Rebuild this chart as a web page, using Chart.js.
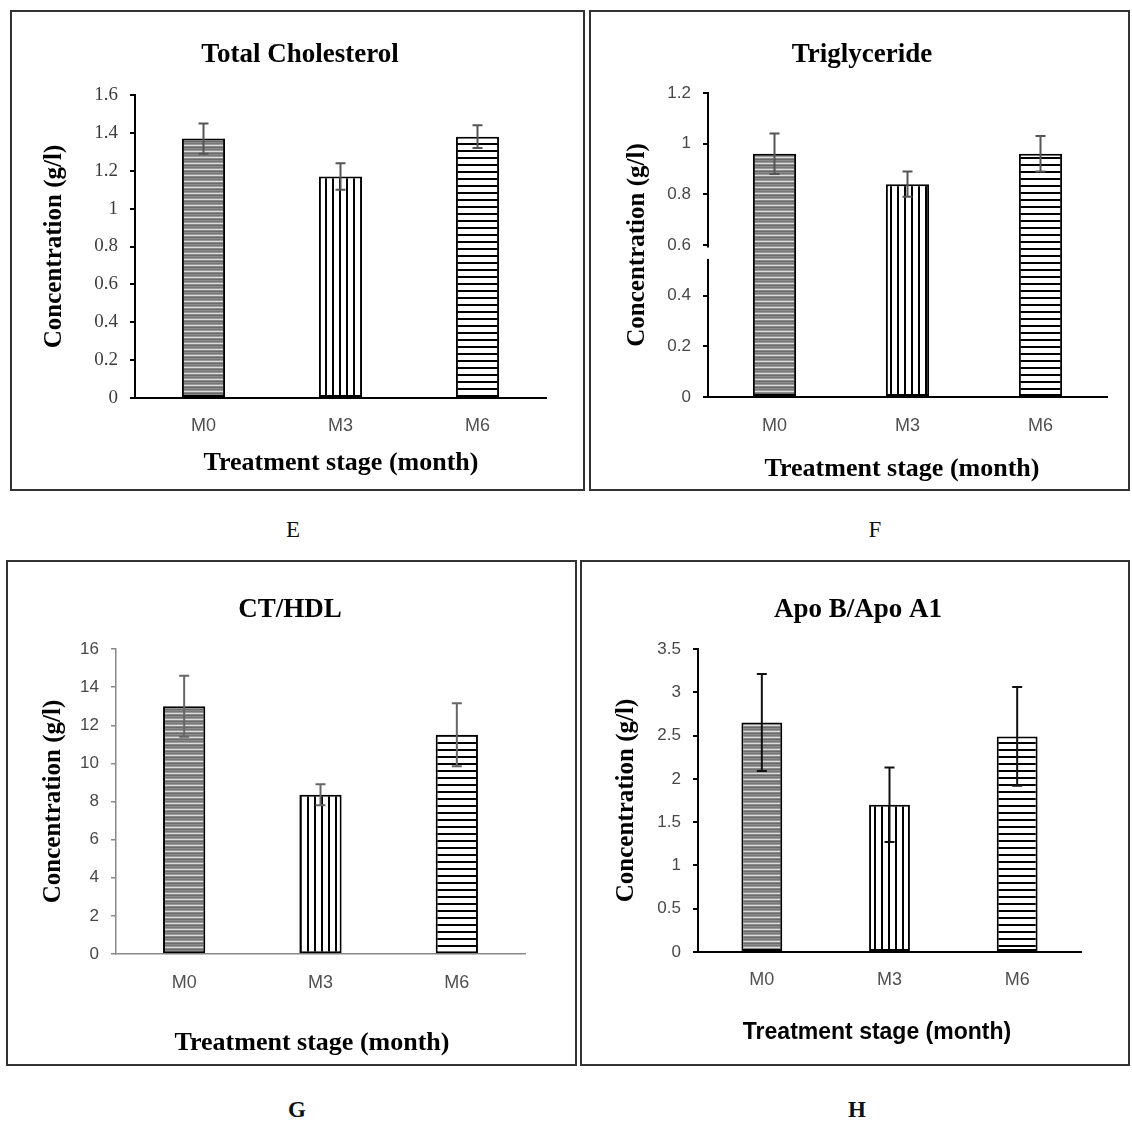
<!DOCTYPE html>
<html>
<head>
<meta charset="utf-8">
<script src="https://cdn.jsdelivr.net/npm/chart.js@4.4.1/dist/chart.umd.min.js"></script>
<style>
  body { margin: 0; background: #fff; width: 1132px; height: 1122px; position: relative; overflow: hidden; }
  canvas { position: absolute; }
  .letter { position: absolute; font-family: 'Liberation Serif', serif; font-size: 23px; color: #111; transform: translate(-50%, -50%); }
  .bold { font-weight: bold; }
</style>
</head>
<body>
<canvas id="chartE"></canvas>
<canvas id="chartF"></canvas>
<canvas id="chartG"></canvas>
<canvas id="chartH"></canvas>
<div class="letter" style="left:293px;top:530px">E</div>
<div class="letter" style="left:875px;top:530px">F</div>
<div class="letter bold" style="left:297px;top:1110px">G</div>
<div class="letter bold" style="left:857px;top:1110px">H</div>
<script>
// ===== DATA =====
const stages = ['M0', 'M3', 'M6'];

const cholesterol = [1.37, 1.17, 1.38];
const cholesterolErr = [0.08, 0.07, 0.06];
const cholesterolTicks = [0, 0.2, 0.4, 0.6, 0.8, 1, 1.2, 1.4, 1.6];

const triglyceride = [0.96, 0.84, 0.96];
const triglycerideErr = [0.08, 0.05, 0.07];
const triglycerideTicks = [0, 0.2, 0.4, 0.6, 0.8, 1, 1.2];

const ctHdl = [13.0, 8.35, 11.5];
const ctHdlErr = [1.6, 0.55, 1.65];
const ctHdlTicks = [0, 2, 4, 6, 8, 10, 12, 14, 16];

const apoRatio = [2.65, 1.70, 2.49];
const apoRatioErr = [0.56, 0.43, 0.57];
const apoRatioTicks = [0, 0.5, 1, 1.5, 2, 2.5, 3, 3.5];

// ===== HATCH PATTERNS =====
function stripes(w, h, draw) {
  const c = document.createElement('canvas');
  c.width = w; c.height = h;
  draw(c.getContext('2d'));
  return c.getContext('2d').createPattern(c, 'repeat');
}

const greyRows = ['#8a8a8a', '#777', '#999', '#dcdcdc', '#8a8a8a', '#6a6a6a'];
const greyLines = stripes(1, greyRows.length, g => {
  greyRows.forEach((col, i) => { g.fillStyle = col; g.fillRect(0, i, 1, 1); });
});
const vertLines = stripes(7, 1, g => {
  g.fillStyle = '#fff'; g.fillRect(0, 0, 7, 1);
  g.fillStyle = '#000'; g.fillRect(0, 0, 2, 1);
});
const horizLines = stripes(1, 7, g => {
  g.fillStyle = '#fff'; g.fillRect(0, 0, 1, 7);
  g.fillStyle = '#000'; g.fillRect(0, 0, 1, 2);
});

// ===== PLUGINS =====
const errorBars = {
  id: 'errorBars',
  afterDatasetsDraw(chart, args, opts) {
    const ctx = chart.ctx;
    const y = chart.scales.y;
    const vals = chart.data.datasets[0].data;
    ctx.save();
    ctx.strokeStyle = opts.color;
    ctx.lineWidth = 2;
    chart.getDatasetMeta(0).data.forEach((bar, i) => {
      const top = y.getPixelForValue(vals[i] + opts.errors[i]);
      const bot = y.getPixelForValue(vals[i] - opts.errors[i]);
      ctx.beginPath();
      ctx.moveTo(bar.x, top); ctx.lineTo(bar.x, bot);
      ctx.moveTo(bar.x - 5, top); ctx.lineTo(bar.x + 5, top);
      ctx.moveTo(bar.x - 5, bot); ctx.lineTo(bar.x + 5, bot);
      ctx.stroke();
    });
    ctx.restore();
  }
};

// chart title and x-axis title, placed where the original figure has them
const texts = {
  id: 'texts',
  afterDraw(chart, args, opts) {
    const ctx = chart.ctx;
    ctx.save();
    ctx.fillStyle = '#000';
    ctx.textAlign = 'center';
    ctx.textBaseline = 'middle';
    opts.items.forEach(t => {
      ctx.font = t.font;
      ctx.fillText(t.text, t.x, t.y);
    });
    ctx.restore();
  }
};

const frame = {
  id: 'frame',
  afterDraw(chart) {
    const ctx = chart.ctx;
    ctx.save();
    ctx.strokeStyle = '#333';
    ctx.lineWidth = 2;
    ctx.strokeRect(1, 1, chart.width - 2, chart.height - 2);
    ctx.restore();
  }
};

const axisBreak = {
  id: 'axisBreak',
  afterDraw(chart, args, opts) {
    if (!opts.from) return;
    const y = chart.scales.y;
    const x = chart.chartArea.left;
    const a = y.getPixelForValue(opts.from), b = y.getPixelForValue(opts.to);
    chart.ctx.save();
    chart.ctx.fillStyle = '#fff';
    chart.ctx.fillRect(x - 3, a, 6, b - a);
    chart.ctx.restore();
  }
};

// ===== CHART BUILDER =====
const serif = "'Liberation Serif', 'Times New Roman', serif";
const sans = "'Liberation Sans', Arial, sans-serif";

function makeChart(id, lay, title, values, errors, ticks, st) {
  const canvas = document.getElementById(id);
  const [bx, by, bw, bh] = lay.box;
  const [al, at, ar, ab] = lay.area;
  canvas.width = bw; canvas.height = bh;
  canvas.style.left = bx + 'px';
  canvas.style.top = by + 'px';

  const aLH = st.axisSize * 1.2;

  return new Chart(canvas, {
    type: 'bar',
    data: {
      labels: stages,
      datasets: [{
        data: values,
        backgroundColor: [greyLines, vertLines, horizLines],
        borderColor: '#000',
        borderWidth: 2,
        borderSkipped: false,
        barPercentage: st.barPct,
        categoryPercentage: 1
      }]
    },
    options: {
      responsive: false,
      animation: false,
      events: [],
      layout: { padding: { left: 0, top: at, right: bw - ar, bottom: 0 } },
      plugins: {
        legend: { display: false },
        tooltip: { enabled: false },
        title: { display: false },
        errorBars: { errors: errors, color: st.errColor },
        axisBreak: st.axisBreak || {},
        texts: {
          items: [
            { text: title, x: lay.title[0], y: lay.title[1], font: 'bold ' + st.titleSize + 'px ' + serif },
            { text: 'Treatment stage (month)', x: lay.xTitle[0], y: lay.xTitle[1],
              font: 'bold ' + st.xTitleSize + 'px ' + st.xTitleFont }
          ]
        }
      },
      scales: {
        x: {
          grid: { display: false, drawTicks: false },
          border: { display: true, color: st.axisColor, width: st.axisWidth },
          ticks: {
            color: '#505050',
            font: { family: sans, size: st.catSize },
            padding: lay.catY - ab - st.catSize * 0.55
          },
          afterFit: s => { s.height = bh - ab; }
        },
        y: {
          min: ticks[0],
          max: ticks[ticks.length - 1],
          afterBuildTicks: s => { s.ticks = ticks.map(v => ({ value: v })); },
          grid: { drawOnChartArea: false, drawTicks: true, tickLength: 5, color: st.axisColor, lineWidth: st.axisWidth },
          border: { display: true, color: st.axisColor, width: st.axisWidth },
          ticks: {
            color: st.tickColor,
            font: { family: st.tickFont, size: st.tickSize },
            padding: 12,
            callback: v => String(v)
          },
          title: {
            display: true,
            text: 'Concentration (g/l)',
            color: '#000',
            font: { family: serif, size: st.axisSize, weight: 'bold' },
            padding: { top: lay.yTitleX - aLH / 2, bottom: 0 }
          },
          afterFit: s => { s.width = al; }
        }
      }
    },
    plugins: [errorBars, axisBreak, texts, frame]
  });
}

const baseStyle = {
  titleSize: 27, axisSize: 25, xTitleSize: 26, xTitleFont: serif,
  tickFont: sans, tickSize: 17, tickColor: '#484848', catSize: 18,
  axisColor: '#000', axisWidth: 2, errColor: '#555', barPct: 0.315
};

makeChart('chartE',
  { box: [10, 10, 575, 481], area: [125, 85, 536, 388], title: [290, 45], xTitle: [331, 453], yTitleX: 45, catY: 415 },
  'Total Cholesterol', cholesterol, cholesterolErr, cholesterolTicks,
  Object.assign({}, baseStyle, { tickFont: serif, tickSize: 19, tickColor: '#3c3c3c' }));

makeChart('chartF',
  { box: [589, 10, 541, 481], area: [119, 83, 518, 387], title: [273, 45], xTitle: [313, 459], yTitleX: 49, catY: 415 },
  'Triglyceride', triglyceride, triglycerideErr, triglycerideTicks,
  Object.assign({}, baseStyle, { barPct: 0.325, axisBreak: { from: 0.59, to: 0.545 } }));

makeChart('chartG',
  { box: [6, 560, 571, 506], area: [110, 89, 519, 394], title: [284, 50], xTitle: [306, 483], yTitleX: 48, catY: 422 },
  'CT/HDL', ctHdl, ctHdlErr, ctHdlTicks,
  Object.assign({}, baseStyle, { axisColor: '#888', axisWidth: 1.5, errColor: '#666', barPct: 0.31 }));

makeChart('chartH',
  { box: [580, 560, 550, 506], area: [118, 89, 501, 392], title: [278, 50], xTitle: [297, 473], yTitleX: 47, catY: 419 },
  'Apo B/Apo A1', apoRatio, apoRatioErr, apoRatioTicks,
  Object.assign({}, baseStyle, { xTitleFont: sans, xTitleSize: 23, errColor: '#111', barPct: 0.32 }));
</script>
</body>
</html>
